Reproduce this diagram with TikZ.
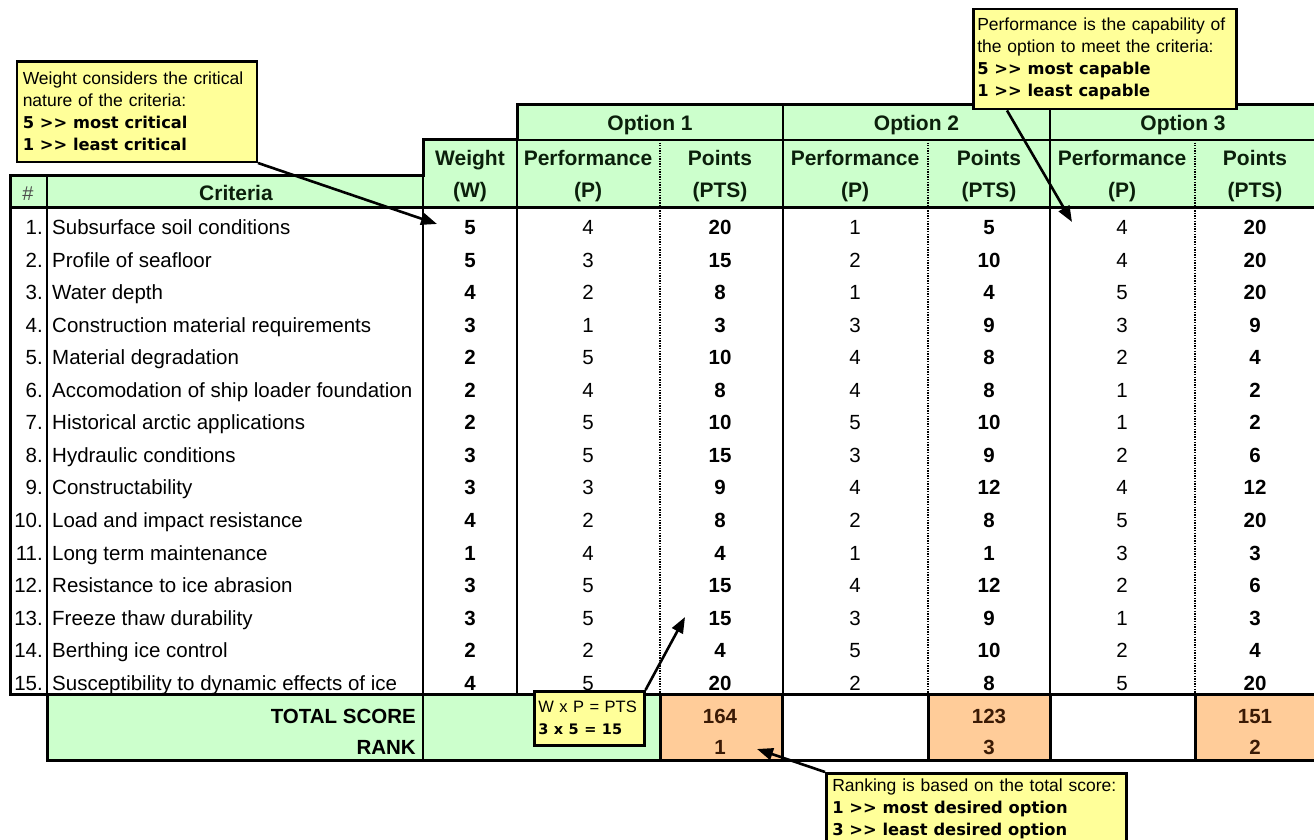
\documentclass[tikz,border=0pt]{standalone}
\usepackage{fontspec}
\setmainfont{Liberation Sans}
\newfontfamily\dv{DejaVu Sans}
\usetikzlibrary{arrows.meta,calc}
\definecolor{hgreen}{HTML}{CCFFCC}
\definecolor{torange}{HTML}{FFCC99}
\definecolor{cyellow}{HTML}{FFFF99}
\definecolor{hdrtext}{HTML}{0B1F0B}
\definecolor{tottext}{HTML}{3A1A05}
\begin{document}
\begin{tikzpicture}[x=1pt,y=-1pt,
  txt/.style={inner sep=0pt, anchor=base, font=\fontsize{20.5}{24}\selectfont},
  txtb/.style={inner sep=0pt, anchor=base, font=\fontsize{20.5}{24}\selectfont\bfseries},
  hdr/.style={inner sep=0pt, anchor=base, text=hdrtext, font=\fontsize{21}{24}\selectfont\bfseries},
  totb/.style={inner sep=0pt, anchor=base, text=tottext, font=\fontsize{20.5}{24}\selectfont\bfseries},
  heavy/.style={line width=3pt, line cap=rect},
  mid/.style={line width=2pt},
  light/.style={line width=1.5pt},
  dotline/.style={line width=1.2pt, dash pattern=on 1.3pt off 1.3pt},
  callout/.style={draw, line width=2.5pt, fill=cyellow, align=left, inner ysep=0pt,
    font=\fontsize{17.5}{22}\selectfont},
  pointer/.style={line width=2.6pt, -{Triangle[length=16pt,width=12pt]}}
]
\newcommand{\cbold}[1]{\mbox{\dv\bfseries\fontsize{16.3}{22}\selectfont #1}}
\useasboundingbox (0,0) rectangle (1314,840);
\clip (0,0) rectangle (1314,840);

% fills
\fill[hgreen] (517,105) rectangle (1316,207);
\fill[hgreen] (423,140) rectangle (517,207);
\fill[hgreen] (10,175) rectangle (423,207);
\fill[hgreen] (47,694) rectangle (660,760);
\fill[torange] (660,694) rectangle (782,760);
\fill[torange] (928,694) rectangle (1050,760);
\fill[torange] (1195,694) rectangle (1316,760);

% grid lines
\draw[light] (517,140) -- (1316,140);
\draw[light] (47,175) -- (47,694);
\draw[mid] (423,175) -- (423,760);
\draw[mid] (517,140) -- (517,694);
\draw[mid] (783,105) -- (783,694);
\draw[mid] (1050,105) -- (1050,694);
\foreach \xx in {660,928,1195} \draw[dotline] (\xx,140) -- (\xx,694);
\draw[heavy, line join=miter] (10,694) -- (10,175) -- (423,175) -- (423,140) -- (517,140) -- (517,105) -- (1316,105);
\draw[heavy] (10,207) -- (1316,207);
\draw[heavy] (10,694) -- (1316,694);
\draw[heavy, line join=miter] (47,694) -- (47,760) -- (1316,760);
\foreach \xx in {660,782,928,1050,1195} \draw[heavy] (\xx,694) -- (\xx,760);

% header text
\node[hdr] (opt1) at (650,130.5) {Option 1};
\node[hdr] (opt2) at (916.5,130.5) {Option 2};
\node[hdr] (opt3) at (1183,130.5) {Option 3};
\node[hdr] (hw1) at (470,165.5) {Weight};
\node[hdr] (hw2) at (470,197.5) {(W)};
\foreach \cx/\nm in {588/a,855/b,1122/c} {
  \node[hdr] (hp1\nm) at (\cx,165.5) {Performance};
  \node[hdr] (hp2\nm) at (\cx,197.5) {(P)};
}
\foreach \cx/\nm in {720/a,989/b,1255/c} {
  \node[hdr] (ht1\nm) at (\cx,165.5) {Points};
  \node[hdr] (ht2\nm) at (\cx,197.5) {(PTS)};
}
\node[hdr, font=\fontsize{20}{24}\selectfont, text=black!70] (hnum) at (28,200) {\#};
\node[hdr] (hcrit) at (236,200) {Criteria};

% data rows
\foreach \i/\crit/\w/\pa/\ta/\pb/\tb/\pc/\tc in {
 1/Subsurface soil conditions/5/4/20/1/5/4/20,
 2/Profile of seafloor/5/3/15/2/10/4/20,
 3/Water depth/4/2/8/1/4/5/20,
 4/Construction material requirements/3/1/3/3/9/3/9,
 5/Material degradation/2/5/10/4/8/2/4,
 6/Accomodation of ship loader foundation/2/4/8/4/8/1/2,
 7/Historical arctic applications/2/5/10/5/10/1/2,
 8/Hydraulic conditions/3/5/15/3/9/2/6,
 9/Constructability/3/3/9/4/12/4/12,
 10/Load and impact resistance/4/2/8/2/8/5/20,
 11/Long term maintenance/1/4/4/1/1/3/3,
 12/Resistance to ice abrasion/3/5/15/4/12/2/6,
 13/Freeze thaw durability/3/5/15/3/9/1/3,
 14/Berthing ice control/2/2/4/5/10/2/4,
 15/Susceptibility to dynamic effects of ice/4/5/20/2/8/5/20} {
  \pgfmathsetmacro\yb{234.5+32.55*(\i-1)}
  \node[txt, anchor=base east] (n\i) at (43,\yb) {\i.};
  \node[txt, anchor=base west] (c\i) at (52,\yb) {\crit};
  \node[txtb] (w\i) at (470,\yb) {\w};
  \node[txt] (pa\i) at (588,\yb) {\pa};
  \node[txtb] (ta\i) at (720,\yb) {\ta};
  \node[txt] (pb\i) at (855,\yb) {\pb};
  \node[txtb] (tb\i) at (989,\yb) {\tb};
  \node[txt] (pc\i) at (1122,\yb) {\pc};
  \node[txtb] (tc\i) at (1255,\yb) {\tc};
}

% totals
\node[txtb, anchor=base east] (ltot) at (416,723.5) {TOTAL SCORE};
\node[txtb, anchor=base east] (lrank) at (416,754.5) {RANK};
\node[totb] (tota) at (720,723.5) {164};
\node[totb] (ranka) at (720,754.5) {1};
\node[totb] (totb) at (989,723.5) {123};
\node[totb] (rankb) at (989,754.5) {3};
\node[totb] (totc) at (1255,723.5) {151};
\node[totb] (rankc) at (1255,754.5) {2};

% callouts
\node[callout, anchor=south east, text width=228pt, inner xsep=6pt, minimum height=100pt] (wcall) at (258,163)
  {\mbox{Weight considers the critical}\\ \mbox{nature of the criteria:}\\ \cbold{5 >> most critical}\\ \cbold{1 >> least critical}};
\node[callout, anchor=north west, text width=255pt, inner xsep=4pt, minimum height=100pt] (pcall) at (972,8)
  {\mbox{Performance is the capability of}\\ \mbox{the option to meet the criteria:}\\ \cbold{5 >> most capable}\\ \cbold{1 >> least capable}};
\node[callout, anchor=north west, text width=102pt, inner xsep=4pt, minimum height=54pt, font=\fontsize{16.5}{22}\selectfont] (xcall) at (533,690)
  {\mbox{W x P = PTS}\\ \mbox{\dv\bfseries\fontsize{14.5}{22}\selectfont 3 x 5 = 15}};
\node[callout, anchor=north west, text width=288pt, inner xsep=6pt, inner ysep=6pt] (rcall) at (825,772)
  {\mbox{Ranking is based on the total score:}\\ \cbold{1 >> most desired option}\\ \cbold{3 >> least desired option}};

% pointers
\coordinate (tipW) at (437,224);
\coordinate (tipP) at (1072,222);
\coordinate (tipX) at (685,617);
\coordinate (tipR) at (757,749);
\draw[pointer] (wcall.south east) -- (tipW);
\draw[pointer] ($(pcall.south west)+(35,0)$) -- (tipP);
\draw[pointer] (xcall.north east) -- (tipX);
\draw[pointer] (rcall.north west) -- (tipR);
\end{tikzpicture}
\end{document}
